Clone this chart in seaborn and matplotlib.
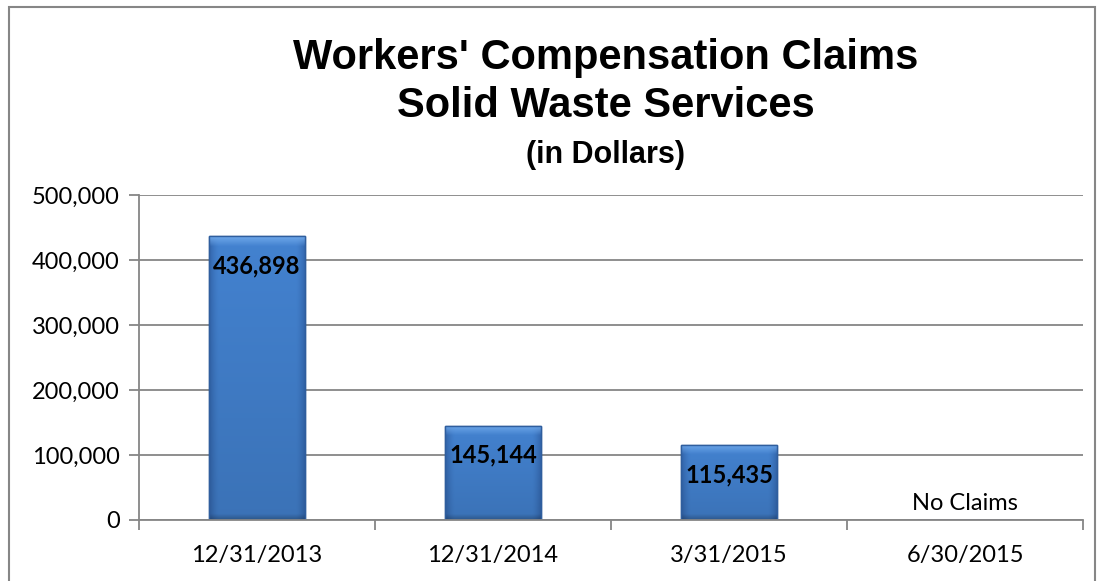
import matplotlib
matplotlib.use("Agg")
import matplotlib.pyplot as plt
import seaborn as sns
import pandas as pd
import numpy as np
from matplotlib.patches import Rectangle
from matplotlib.colors import to_rgb
from matplotlib.ticker import FuncFormatter, FixedLocator

categories = ["12/31/2013", "12/31/2014", "3/31/2015", "6/30/2015"]
values = [436898, 145144, 115435, 0]
bar_labels = ["436,898", "145,144", "115,435", "No Claims"]
yticks = [0, 100000, 200000, 300000, 400000, 500000]

sns.set_theme(style="white")
plt.rcParams['font.family'] = ['Lato', 'DejaVu Sans']
plt.rcParams['text.color'] = 'black'
plt.rcParams['xtick.color'] = 'black'
plt.rcParams['ytick.color'] = 'black'

df = pd.DataFrame({"date": categories, "amount": values})

fig = plt.figure(figsize=(11.03, 5.81), dpi=100)
ax = fig.add_axes([139/1103, 1-520/581, (1083-139)/1103, (520-195)/581])

sns.barplot(data=df, x="date", y="amount", color="#3b77c6", width=0.41,
            edgecolor="#2a5591", linewidth=1.0, ax=ax, saturation=1)

ax.set_ylim(0, 500000)
ax.set_xlim(-0.5, 3.5)

# beveled gradient fill, clipped to each bar
edge_c = np.array(to_rgb("#3366ad"))
mid_c = np.array(to_rgb("#4382d0"))
top_c = np.array(to_rgb("#6fa8ea"))
nx, ny = 80, 400
xs = np.linspace(-1, 1, nx)
hprof = 1 - np.clip((np.abs(xs) - 0.8) / 0.2, 0, 1) ** 1.5
for p in list(ax.patches):
    x0, w, h = p.get_x(), p.get_width(), p.get_height()
    if h <= 0:
        continue
    px_h = 325 * h / 500000
    img = edge_c[None, None, :] + (mid_c - edge_c)[None, None, :] * hprof[None, :, None]
    img = np.repeat(img, ny, axis=0)
    ypix = np.linspace(0, px_h, ny)[:, None, None]  # pixels from top
    img = img * (1 - 0.12 * ypix / px_h)
    tb = np.clip(1 - ypix / 10.0, 0, 1)  # top bevel fading over ~10 px
    img = img * (1 - tb) + top_c[None, None, :] * tb
    # bottom bevel slightly darker
    bb = np.clip(1 - (px_h - ypix) / 6.0, 0, 1)
    img = img * (1 - 0.25 * bb)
    im = ax.imshow(np.clip(img, 0, 1), extent=(x0, x0 + w, 0, h), aspect="auto",
                   origin="upper", zorder=p.get_zorder() + 0.1, interpolation="bilinear")
    im.set_clip_path(p)
    ax.add_patch(Rectangle((x0, 0), w, h, fill=False, edgecolor="#2f5e9e",
                           linewidth=1.0, zorder=p.get_zorder() + 0.2))

ax.set_xlim(-0.5, 3.5)
ax.set_ylim(0, 500000)
ax.yaxis.set_major_locator(FixedLocator(yticks))
ax.yaxis.set_major_formatter(FuncFormatter(lambda v, _: f"{int(v):,}"))
ax.grid(axis="y", color="#868686", linewidth=1.3)
ax.set_axisbelow(True)
for s in ["top", "right"]:
    ax.spines[s].set_visible(False)
for s in ["left", "bottom"]:
    ax.spines[s].set_color("#868686")
    ax.spines[s].set_linewidth(1.3)

ax.set_xlabel("")
ax.set_ylabel("")
ax.tick_params(axis="y", which="major", left=True, length=7, width=1.3, color="#868686",
               labelsize=17, labelcolor="black", pad=7)
ax.tick_params(axis="x", which="major", bottom=False, labelsize=17, labelcolor="black", pad=12)
ax.set_xticks(np.arange(-0.5, 4.0, 1.0), minor=True)
ax.tick_params(axis="x", which="minor", bottom=True, length=7, width=1.3, color="#868686")

for i, (v, lab) in enumerate(zip(values, bar_labels)):
    if v > 0:
        ax.annotate(lab, xy=(i, v), xytext=(0, -13), textcoords="offset points",
                    ha="center", va="top", fontsize=17, fontweight="bold", color="black", zorder=5)
    else:
        ax.annotate(lab, xy=(i, v), xytext=(0, 4), textcoords="offset points",
                    ha="center", va="bottom", fontsize=17, color="black", zorder=5)

fig.text(606/1103, 1-58/581, "Workers' Compensation Claims", ha="center", va="center",
         fontsize=30, fontweight="bold", family="Liberation Sans", color="black")
fig.text(606/1103, 1-106/581, "Solid Waste Services", ha="center", va="center",
         fontsize=30, fontweight="bold", family="Liberation Sans", color="black")
fig.text(606/1103, 1-155/581, "(in Dollars)", ha="center", va="center",
         fontsize=22, fontweight="bold", family="Liberation Sans", color="black")

fig.patches.append(Rectangle((9/1103, -0.1), (1095-9)/1103, 1.1-7/581, transform=fig.transFigure,
                             fill=False, edgecolor="#868686", linewidth=1.5))

fig.savefig("out.png", dpi=100)
